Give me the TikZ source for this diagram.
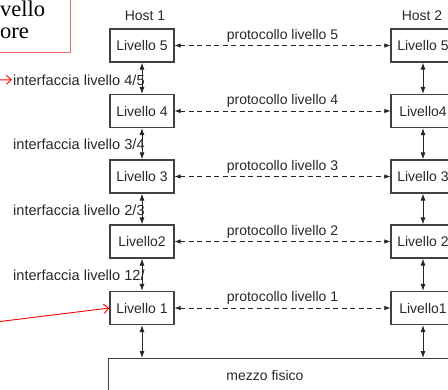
\documentclass[tikz,border=0pt]{standalone}
\usepackage{fontspec}
\setmainfont{Liberation Sans}
\newfontfamily\serifface{Liberation Serif}
\usetikzlibrary{arrows.meta}
\definecolor{boxgray}{RGB}{65,65,65}
\definecolor{textgray}{RGB}{40,40,40}
\definecolor{notered}{RGB}{238,105,105}
\begin{document}
\begin{tikzpicture}[x=1pt,y=-1pt,
  every node/.style={text=textgray, font=\fontsize{14}{16}\selectfont},
  layerbox/.style={draw=boxgray, line width=1.1pt, minimum width=64pt,
    minimum height=33pt, inner sep=0pt},
  protolink/.style={draw=black!85, line width=0.8pt, dash pattern=on 5pt off 3.5pt,
    {Latex[length=6pt,width=4.5pt]}-{Latex[length=6pt,width=4.5pt]}},
  vlink/.style={draw=black!85, line width=0.9pt,
    {Latex[length=7pt,width=5pt]}-{Latex[length=7pt,width=5pt]}},
  protolabel/.style={midway, above, inner sep=3pt},
  iflabel/.style={anchor=base west, inner sep=1pt, font=\fontsize{14.6}{16}\selectfont},
  notelink/.style={draw=red, line width=0.9pt, -{Straight Barb[length=5pt,width=9pt]}},
  notetext/.style={anchor=base west, inner sep=0pt,
    font=\serifface\fontsize{22.5}{24}\selectfont, text=black},
]
\useasboundingbox (0,0) rectangle (448,389);
\clip (0,0) rectangle (448,389);

% annotation box in the top left corner
\draw[notered, line width=1pt] (-5,-5) rectangle (70,52);
\node[notetext] (noteA) at (0,16.5) {vello};
\node[notetext] (noteB) at (0,38.5) {ore};

% host titles
\node[anchor=base] (h1) at (145,20) {Host 1};
\node[anchor=base] (h2) at (422,20) {Host 2};

% layer stacks
\node[layerbox] (L5) at (142,45.5) {Livello 5};
\node[layerbox] (L4) at (142,111) {Livello 4};
\node[layerbox] (L3) at (142,176.5) {Livello 3};
\node[layerbox] (L2) at (142,241.5) {Livello2};
\node[layerbox] (L1) at (142,308) {Livello 1};

\node[layerbox] (R5) at (423,45.5) {Livello 5};
\node[layerbox] (R4) at (423,111) {Livello4};
\node[layerbox] (R3) at (423,176.5) {Livello 3};
\node[layerbox] (R2) at (423,241.5) {Livello 2};
\node[layerbox] (R1) at (423,308) {Livello1};

% physical medium
\node[draw=boxgray, line width=1.1pt, anchor=north west, minimum width=380pt,
  minimum height=60pt, inner sep=0pt] (M) at (108,358) {};
\node[anchor=base] (Mlabel) at (265,380) {mezzo fisico};

% peer protocols
\draw[protolink] (L5) -- (R5) node[protolabel] {protocollo livello 5};
\draw[protolink] (L4) -- (R4) node[protolabel] {protocollo livello 4};
\draw[protolink] (L3) -- (R3) node[protolabel] {protocollo livello 3};
\draw[protolink] (L2) -- (R2) node[protolabel] {protocollo livello 2};
\draw[protolink] (L1) -- (R1) node[protolabel] {protocollo livello 1};

% interfaces
\node[iflabel] (I45) at (12,85) {interfaccia livello 4/5};
\node[iflabel] (I34) at (12,149.5) {interfaccia livello 3/4};
\node[iflabel] (I23) at (12,215) {interfaccia livello 2/3};
\node[iflabel] (I12) at (12,280) {interfaccia livello 12/};

\draw[vlink] (L5) -- (L4);
\draw[vlink] (L4) -- (L3);
\draw[vlink] (L3) -- (L2);
\draw[vlink] (L2) -- (L1);
\draw[vlink] (L1.south) -- (L1.south |- M.north);

\draw[vlink] (R5) -- (R4);
\draw[vlink] (R4) -- (R3);
\draw[vlink] (R3) -- (R2);
\draw[vlink] (R2) -- (R1);
\draw[vlink] (R1.south) -- (R1.south |- M.north);

% red pointers
\coordinate (redA) at (-12,80);
\coordinate (redB) at (-4,322);
\draw[notelink] (redA) -- (I45.west);
\draw[notelink] (redB) -- (L1.west);
\end{tikzpicture}
\end{document}
